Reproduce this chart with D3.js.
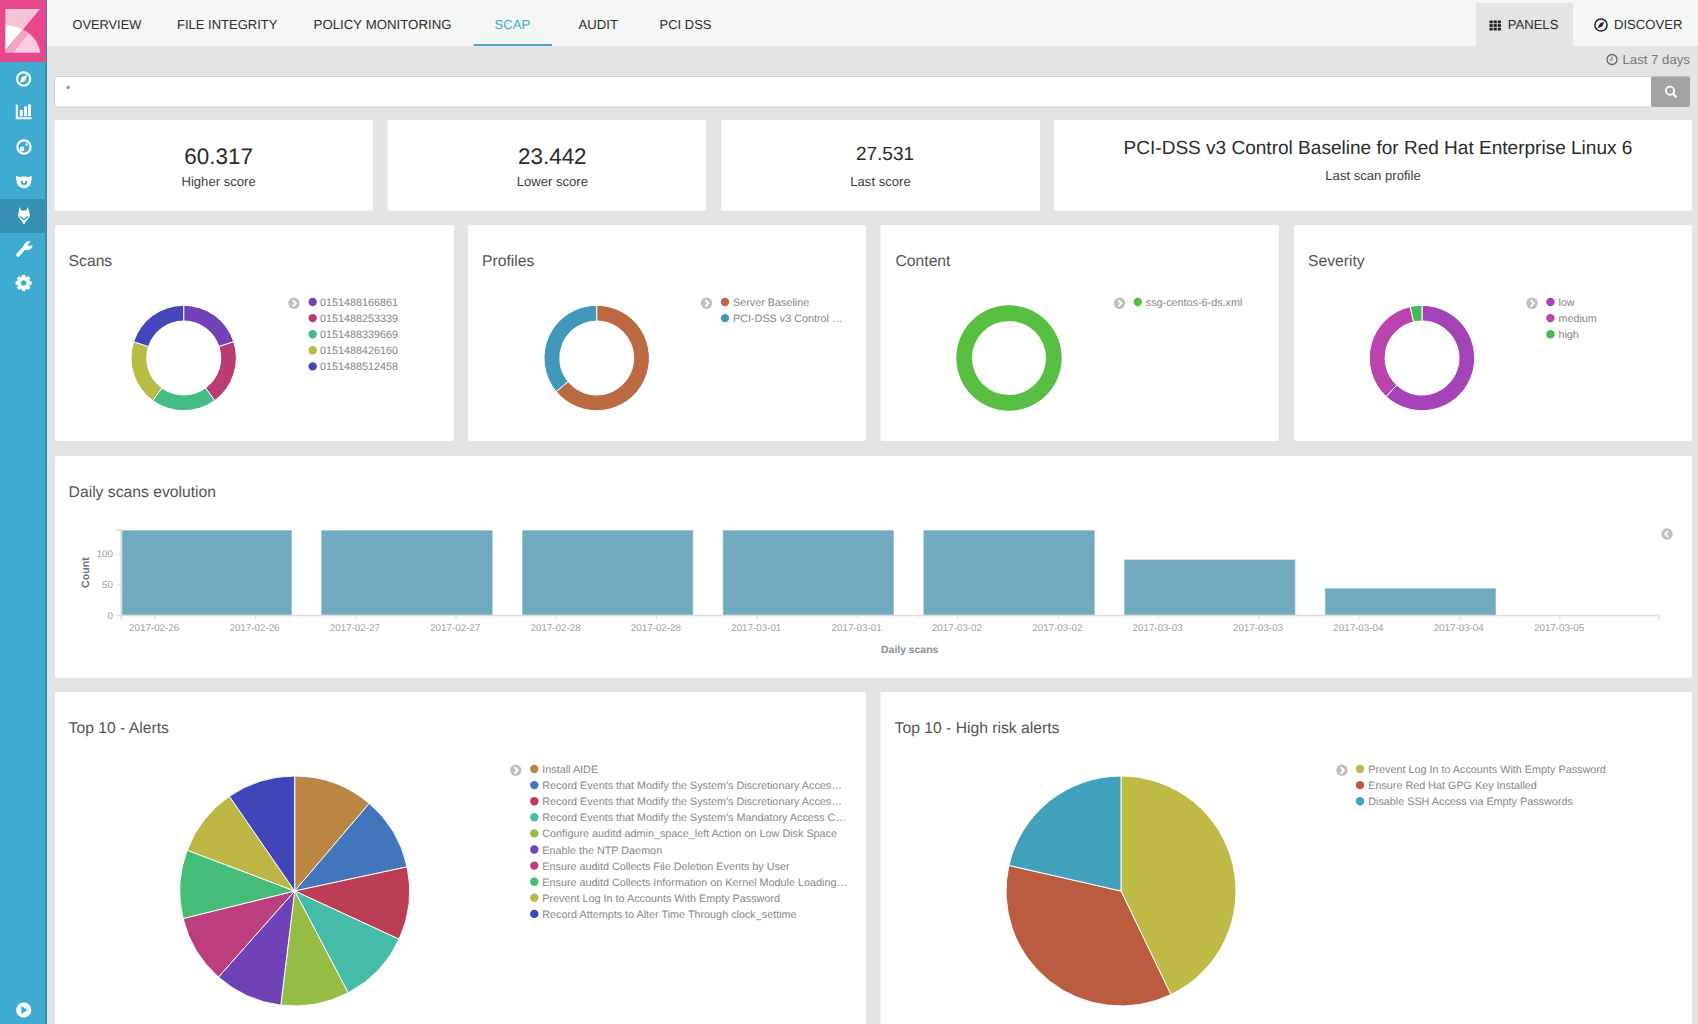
<!DOCTYPE html>
<html>
<head>
<meta charset="utf-8">
<script src="https://cdn.jsdelivr.net/npm/d3@7"></script>
<style>
html,body{margin:0;padding:0;background:#e4e4e4;overflow:hidden}
svg{display:block;font-family:"Liberation Sans",Arial,sans-serif}
text{text-rendering:geometricPrecision}
</style>
</head>
<body>
<svg id="page" width="1698" height="1024" xmlns="http://www.w3.org/2000/svg"></svg>
<script>
// ---------- chart data ----------
const navLabels = ["OVERVIEW","FILE INTEGRITY","POLICY MONITORING","SCAP","AUDIT","PCI DSS"];
const metricValues = ["60.317","23.442","27.531","PCI-DSS v3 Control Baseline for Red Hat Enterprise Linux 6"];
const metricLabels = ["Higher score","Lower score","Last score","Last scan profile"];

const scanLabels = ["0151488166861","0151488253339","0151488339669","0151488426160","0151488512458"];
const scanValues = [138,138,138,138,138];

const profileLabels = ["Server Baseline","PCI-DSS v3 Control …"];
const profileValues = [64,36];

const contentLabels = ["ssg-centos-6-ds.xml"];
const contentValues = [100];

const severityLabels = ["low","medium","high"];
const severityValues = [223,124,13];

const dailyDates = ["2017-02-26","2017-02-27","2017-02-28","2017-03-01","2017-03-02","2017-03-03","2017-03-04"];
const dailyCounts = [138,138,138,138,138,90,43];
const dailyTickLabels = ["2017-02-26","2017-02-26","2017-02-27","2017-02-27","2017-02-28","2017-02-28","2017-03-01","2017-03-01","2017-03-02","2017-03-02","2017-03-03","2017-03-03","2017-03-04","2017-03-04","2017-03-05"];
const countTicks = [0,50,100];

const alertLabels = ["Install AIDE","Record Events that Modify the System's Discretionary Acces…","Record Events that Modify the System's Discretionary Acces…","Record Events that Modify the System's Mandatory Access C…","Configure auditd admin_space_left Action on Low Disk Space","Enable the NTP Daemon","Ensure auditd Collects File Deletion Events by User","Ensure auditd Collects Information on Kernel Module Loading…","Prevent Log In to Accounts With Empty Password","Record Attempts to Alter Time Through clock_settime"];
const alertValues = [70,65,64,65,60,60,60,60,60,60];

const highLabels = ["Prevent Log In to Accounts With Empty Password","Ensure Red Hat GPG Key Installed","Disable SSH Access via Empty Passwords"];
const highValues = [60,50,30];

// ---------- colours ----------
const scanColors = ["#7441b8","#b93c74","#43bd84","#b8bb44","#4545bc"];
const profileColors = ["#bb6940","#4197bc"];
const contentColors = ["#58bf42"];
const severityColors = ["#a543b9","#bc42ae","#43bb50"];
const alertColors = ["#bb8843","#4275bb","#bb3d53","#45bcaa","#95bc45","#7042b8","#bb3f7f","#45bd78","#bdb644","#4045b9"];
const highColors = ["#bfb946","#bb5b40","#42a1bd"];

// ---------- helpers ----------
const svg = d3.select("#page");
function rect(p,x,y,w,h,fill,rx){return p.append("rect").attr("x",x).attr("y",y).attr("width",w).attr("height",h).attr("fill",fill).attr("rx",rx||0);}
function label(p,x,y,s,o){o=o||{};return p.append("text").attr("x",x).attr("y",y).attr("dy","0.35em")
  .attr("text-anchor",o.anchor||"start").attr("font-size",o.size||13).attr("fill",o.fill||"#333")
  .attr("font-weight",o.weight||"normal").text(s);}
function arrow(p,x,y,left){
  p.append("circle").attr("cx",x).attr("cy",y).attr("r",5.7).attr("fill","#bfbfbf");
  p.append("path").attr("d",left?`M${x+1.2},${y-3.2}L${x-1.8},${y}L${x+1.2},${y+3.2}`:`M${x-1.2},${y-3.2}L${x+1.8},${y}L${x-1.2},${y+3.2}`)
   .attr("fill","none").attr("stroke","#fff").attr("stroke-width",1.9);
}

// ---------- page chrome ----------
rect(svg,0,0,1698,1024,"#e4e4e4");
rect(svg,47,0,1651,46,"#f5f6f6");
rect(svg,1476,3,97,43,"#e4e4e4");

// sidebar
rect(svg,0,0,47,1024,"#40abd1");
rect(svg,45.5,0,1.5,1024,"#2b86a4");
rect(svg,0,0,46,62,"#e8478b");
rect(svg,0,199,45.5,34,"#3590b3");
const logo = svg.append("g");
logo.append("path").attr("d","M5.3,9H40L23,29.5C17,26.5 11,25 5.3,25Z").attr("fill","#f9c4da");
logo.append("path").attr("d","M5.3,25C11,25 17,26.5 23,29.5L5.3,50Z").attr("fill","#fff");
logo.append("path").attr("d","M5.3,52.7L5.3,50L23,29.5C25,30.5 27,31.7 28.5,33L13,52.7Z").attr("fill","#f4a4c6");
logo.append("path").attr("d","M13,52.7L28.5,33C35,38 39,45 40.3,52.7Z").attr("fill","#fbcbdf");

const W="#fff";
function ring(x,y,r){svg.append("circle").attr("cx",x).attr("cy",y).attr("r",r).attr("fill","none").attr("stroke",W).attr("stroke-width",2.1);}
ring(23.6,79,6.6);
svg.append("path").attr("d","M27.5,75L25,81L19.7,83L22,77Z").attr("fill",W);
svg.append("path").attr("d","M16.8,104.5V118.3H31.5").attr("fill","none").attr("stroke",W).attr("stroke-width",2);
rect(svg,19.8,110,3,6.2,W);rect(svg,24,106.5,3,9.7,W);rect(svg,28,104.5,3,11.7,W);
ring(24,147,6.6);
svg.append("circle").attr("cx",22).attr("cy",149).attr("r",2.4).attr("fill",W);
svg.append("circle").attr("cx",26.5).attr("cy",144.5).attr("r",1.3).attr("fill",W);
svg.append("path").attr("d","M16.2,175.5L19,177C22,176.2 26,176.2 29,177L31.6,175.5C32,181 31,185 28,187C25.5,188.6 22.5,188.6 20,187C17,185 16,181 16.2,175.5Z").attr("fill",W);
svg.append("path").attr("d","M21,181H23V183H25V181H27V183.6C25.5,185.6 22.5,185.6 21,183.6Z").attr("fill","#40abd1");
svg.append("path").attr("d","M19.5,207L21.5,210.5H26L28,207L30,216L26.5,221L24,224.5L21.5,221L18,216Z").attr("fill",W);
svg.append("path").attr("d","M20,216.5L24,219.5L28,216.5").attr("fill","none").attr("stroke","#3590b3").attr("stroke-width",1.2);
svg.append("path").attr("d","M18,255L25,247").attr("stroke",W).attr("stroke-width",3.6).attr("stroke-linecap","round");
svg.append("path").attr("d","M24,249C22.5,244 27,240.5 30.5,241L27.8,244.5L29,246.5L32.5,245C32.5,249 28,251.5 24,249Z").attr("fill",W);
svg.append("circle").attr("cx",23.6).attr("cy",283).attr("r",4.6).attr("fill","none").attr("stroke",W).attr("stroke-width",3.6);
d3.range(8).forEach(i=>{svg.append("rect").attr("x",21.8).attr("y",275).attr("width",3.6).attr("height",3.6).attr("fill",W)
  .attr("transform",`rotate(${i*45} 23.6 283)`);});
svg.append("circle").attr("cx",23.7).attr("cy",1010).attr("r",7.6).attr("fill",W);
svg.append("path").attr("d","M21.3,1006L27.5,1010L21.3,1014Z").attr("fill","#40abd1");

// top navigation
const navX=[72.5,177,313.6,494.6,578.6,659.5];
const navSize=[12.8,13,13.25,13.1,13.1,13];
navLabels.forEach((s,i)=>label(svg,navX[i],24.5,s,{size:navSize[i],fill:i===3?"#3fa9cf":"#2c2c2c"}));
rect(svg,473.6,44,78.4,2,"#4fa8c8");
// panels & discover
d3.range(3).forEach(r=>d3.range(3).forEach(c=>rect(svg,1489.5+c*4.1,20.5+r*3.6,3.2,2.8,"#222")));
label(svg,1507.7,24.5,"PANELS",{size:13.1,fill:"#2c2c2c"});
svg.append("circle").attr("cx",1601).attr("cy",25).attr("r",6.1).attr("fill","none").attr("stroke","#222").attr("stroke-width",1.5);
svg.append("path").attr("d","M1604.3,21.7L1602.2,26.5L1597.7,28.3L1599.8,23.5Z").attr("fill","#222");
label(svg,1614,24.5,"DISCOVER",{size:13.1,fill:"#2c2c2c"});
// time
svg.append("circle").attr("cx",1612).attr("cy",59.5).attr("r",5).attr("fill","none").attr("stroke","#666").attr("stroke-width",1.3);
svg.append("path").attr("d","M1612,56.6V60H1609.6").attr("fill","none").attr("stroke","#666").attr("stroke-width",1);
label(svg,1622.5,59.5,"Last 7 days",{size:13.2,fill:"#777"});
// search bar
rect(svg,54.5,76.5,1597,30.5,"#fff",2).attr("stroke","#cfcfcf").attr("stroke-width",1);
rect(svg,1651,76.5,39,30.5,"#a3a3a3",2);
label(svg,66,89,"*",{size:11,fill:"#666"});
svg.append("circle").attr("cx",1670).attr("cy",90.7).attr("r",4.1).attr("fill","none").attr("stroke","#fff").attr("stroke-width",1.9);
svg.append("path").attr("d","M1673,93.7L1676.5,97.2").attr("stroke","#fff").attr("stroke-width",2.3);

// ---------- panels ----------
const cardBoxes=[[54.6,120,318.5,90.7],[387.5,120,318.5,90.7],[721,120,319,90.7],[1054,120,638,90.7],
 [55,225,399,216],[468,225,398,216],[880.5,225,398.5,216],[1294,225,398,216],
 [55,456,1637,222],[55,692,811,340],[880.5,692,811.5,340]];
cardBoxes.forEach(b=>rect(svg,b[0],b[1],b[2],b[3],"#fff",2));

// metric tiles
const metricLayout=[{x:218.6,lx:218.6,vy:156.5,ly:181.2,s:22.4},{x:552.3,lx:552.3,vy:156.5,ly:181.2,s:22.4},{x:885,lx:880.5,vy:153,ly:181.2,s:19},{x:1378,lx:1373,vy:147.6,ly:175.5,s:19.05}];
metricValues.forEach((v,i)=>{const m=metricLayout[i];
  label(svg,m.x,m.vy,v,{size:m.s,fill:"#2b2b2b",anchor:"middle"});
  label(svg,m.lx,m.ly,metricLabels[i],{size:13.1,fill:"#3d3d3d",anchor:"middle"});
});

// panel titles
[["Scans",68.6,260.4],["Profiles",482,260.4],["Content",895.5,260.4],["Severity",1308,260.4],
 ["Daily scans evolution",68.6,491.3],["Top 10 - Alerts",68.6,727.4],["Top 10 - High risk alerts",894.6,727.4]]
 .forEach(t=>label(svg,t[1],t[2],t[0],{size:15.7,fill:"#555"}));

// pies
function pieChart(cx,cy,rOuter,rInner,values,colors){
  const pie=d3.pie().sort(null)(values);
  const arc=d3.arc().innerRadius(rInner).outerRadius(rOuter);
  svg.append("g").attr("transform",`translate(${cx},${cy})`).selectAll("path").data(pie).join("path")
    .attr("d",arc).attr("fill",(d,i)=>colors[i]).attr("stroke","#fff").attr("stroke-width",values.length>1?1:0);
}
function legend(arrowX,dotX,textX,y0,names,colors){
  arrow(svg,arrowX,y0+1.3);
  names.forEach((n,i)=>{const y=y0+i*16.1;
    svg.append("circle").attr("cx",dotX).attr("cy",y).attr("r",4.2).attr("fill",colors[i]);
    label(svg,textX,y+0.3,n,{size:10.8,fill:"#878787"});
  });
}
pieChart(183.7,358,52.7,37,scanValues,scanColors);
legend(294,312.7,320,302,scanLabels,scanColors);
pieChart(596.7,358,52.7,37,profileValues,profileColors);
legend(706.6,725,733,302,profileLabels,profileColors);
pieChart(1009,358,52.7,37,contentValues,contentColors);
legend(1119.5,1137.8,1145.8,302,contentLabels,contentColors);
pieChart(1422,358,52.7,37,severityValues,severityColors);
legend(1532,1550.4,1558.4,302,severityLabels,severityColors);
pieChart(294.7,891,115,0,alertValues,alertColors);
legend(515.7,534.3,542.3,769,alertLabels,alertColors);
pieChart(1121,891,115,0,highValues,highColors);
legend(1342,1360,1368.2,769,highLabels,highColors);

// ---------- histogram ----------
const H=3600e3;
const t0=Date.UTC(2017,1,26);
const x=d3.scaleUtc().domain([new Date(t0),new Date(t0+183.82*H)]).range([121,1658.2]);
const y=d3.scaleLinear().domain([0,140]).range([615,529.3]);
const barWidth=x(new Date(t0+20.39*H))-x(new Date(t0));
svg.append("g").selectAll("rect").data(dailyCounts).join("rect")
  .attr("x",(d,i)=>x(d3.utcParse("%Y-%m-%d")(dailyDates[i])))
  .attr("y",d=>y(d)).attr("width",barWidth).attr("height",d=>y(0)-y(d))
  .attr("fill","#71aabf").attr("stroke","#8dc0d2").attr("stroke-width",0.6);

const tickDates=dailyTickLabels.map((d,i)=>new Date(t0+(4+12*i)*H));
const gx=svg.append("g").attr("transform","translate(0,615)")
  .call(d3.axisBottom(x).tickValues(tickDates).tickFormat((d,i)=>dailyTickLabels[i]).tickSize(5).tickPadding(2));
const gy=svg.append("g").attr("transform","translate(121,0)")
  .call(d3.axisLeft(y).tickValues(countTicks).tickSize(5).tickPadding(3));
[gx,gy].forEach(g=>{
  g.selectAll(".domain").attr("stroke","#ddd").attr("stroke-width",1.5);
  g.selectAll(".tick line").attr("stroke","#ddd");
  g.selectAll("text").attr("fill","#a0a0a5").attr("font-size",9.8).attr("font-family","Liberation Sans");
});
gx.selectAll("text").attr("dy","0.9em").attr("dx",-0.8);
svg.append("text").attr("transform","translate(85.7,572.5) rotate(-90)").attr("text-anchor","middle").attr("dy","0.35em")
  .attr("font-size",10.7).attr("font-weight","bold").attr("fill","#6a7078").text("Count");
label(svg,909.7,649,"Daily scans",{size:10.4,weight:"bold",fill:"#848e96",anchor:"middle"});
arrow(svg,1667,534,true);
</script>
</body>
</html>
